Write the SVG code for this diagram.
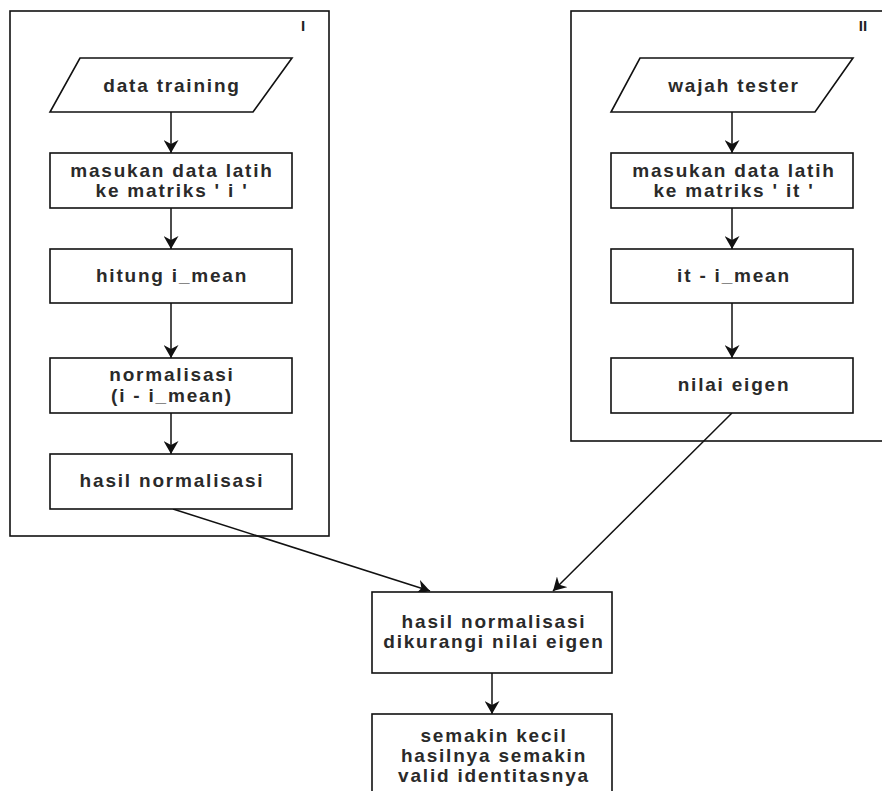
<svg xmlns="http://www.w3.org/2000/svg" width="882" height="791" viewBox="0 0 882 791">
<style>
.frame{fill:none;stroke:#111;stroke-width:1.6}
.box{fill:#fff;stroke:#111;stroke-width:1.6}
.t{font-family:"Liberation Sans",Arial,sans-serif;font-size:19px;font-weight:bold;letter-spacing:1.8px;fill:#2a2a2a;text-anchor:middle}
.lbl{font-family:"Liberation Sans",Arial,sans-serif;font-size:15px;font-weight:bold;fill:#222;text-anchor:middle}
.c{fill:none;stroke:#111;stroke-width:1.5}
</style>
<defs>
<marker id="ah" viewBox="0 0 13 15" refX="13" refY="7.5" markerWidth="13" markerHeight="15" markerUnits="userSpaceOnUse" orient="auto">
<path d="M0,0 L13,7.5 L0,15 L4,7.5 Z" fill="#111"/>
</marker>
</defs>
<g id="containerI">
<rect class="frame" x="10" y="11" width="319" height="525"/>
<text class="lbl" x="303" y="31">I</text>
</g>
<g id="containerII">
<rect class="frame" x="571" y="11" width="330" height="430"/>
<text class="lbl" x="863" y="31">II</text>
</g>
<g id="connectors">
<line class="c" x1="171" y1="112" x2="171" y2="153" marker-end="url(#ah)"/>
<line class="c" x1="171" y1="208" x2="171" y2="249" marker-end="url(#ah)"/>
<line class="c" x1="171" y1="303" x2="171" y2="358" marker-end="url(#ah)"/>
<line class="c" x1="171" y1="413" x2="171" y2="454" marker-end="url(#ah)"/>
<line class="c" x1="732" y1="112" x2="732" y2="153" marker-end="url(#ah)"/>
<line class="c" x1="732" y1="208" x2="732" y2="249" marker-end="url(#ah)"/>
<line class="c" x1="732" y1="303" x2="732" y2="358" marker-end="url(#ah)"/>
<line class="c" x1="173" y1="509" x2="430" y2="591" marker-end="url(#ah)"/>
<line class="c" x1="732" y1="413" x2="553" y2="591" marker-end="url(#ah)"/>
<line class="c" x1="492" y1="673" x2="492" y2="714" marker-end="url(#ah)"/>
</g>
<g id="dataTraining">
<polygon class="box" points="80,58 292,58 253,112 50,112"/>
<text class="t" x="172" y="92">data training</text>
</g>
<g id="masukanI">
<rect class="box" x="50" y="153" width="242" height="55"/>
<text class="t" x="172" y="177">masukan data latih</text>
<text class="t" x="172" y="197">ke matriks ' i '</text>
</g>
<g id="hitungMean">
<rect class="box" x="50" y="249" width="242" height="54"/>
<text class="t" x="172" y="282">hitung i_mean</text>
</g>
<g id="normalisasi">
<rect class="box" x="50" y="358" width="242" height="55"/>
<text class="t" x="172" y="381">normalisasi</text>
<text class="t" x="172" y="402">(i  - i_mean)</text>
</g>
<g id="hasilNormalisasi">
<rect class="box" x="50" y="454" width="242" height="55"/>
<text class="t" x="172" y="487">hasil normalisasi</text>
</g>
<g id="wajahTester">
<polygon class="box" points="640,58 853,58 815,112 611,112"/>
<text class="t" x="734" y="92">wajah tester</text>
</g>
<g id="masukanIt">
<rect class="box" x="611" y="153" width="242" height="55"/>
<text class="t" x="734" y="177">masukan data latih</text>
<text class="t" x="734" y="197">ke matriks ' it '</text>
</g>
<g id="itMean">
<rect class="box" x="611" y="249" width="242" height="54"/>
<text class="t" x="734" y="282">it - i_mean</text>
</g>
<g id="nilaiEigen">
<rect class="box" x="611" y="358" width="242" height="55"/>
<text class="t" x="734" y="391">nilai eigen</text>
</g>
<g id="hasilDikurangi">
<rect class="box" x="372" y="592" width="240" height="81"/>
<text class="t" x="494" y="628">hasil normalisasi</text>
<text class="t" x="494" y="648">dikurangi nilai eigen</text>
</g>
<g id="kesimpulan">
<rect class="box" x="372" y="714" width="240" height="90"/>
<text class="t" x="494" y="742">semakin kecil</text>
<text class="t" x="494" y="762">hasilnya semakin</text>
<text class="t" x="494" y="782">valid identitasnya</text>
</g>
</svg>
